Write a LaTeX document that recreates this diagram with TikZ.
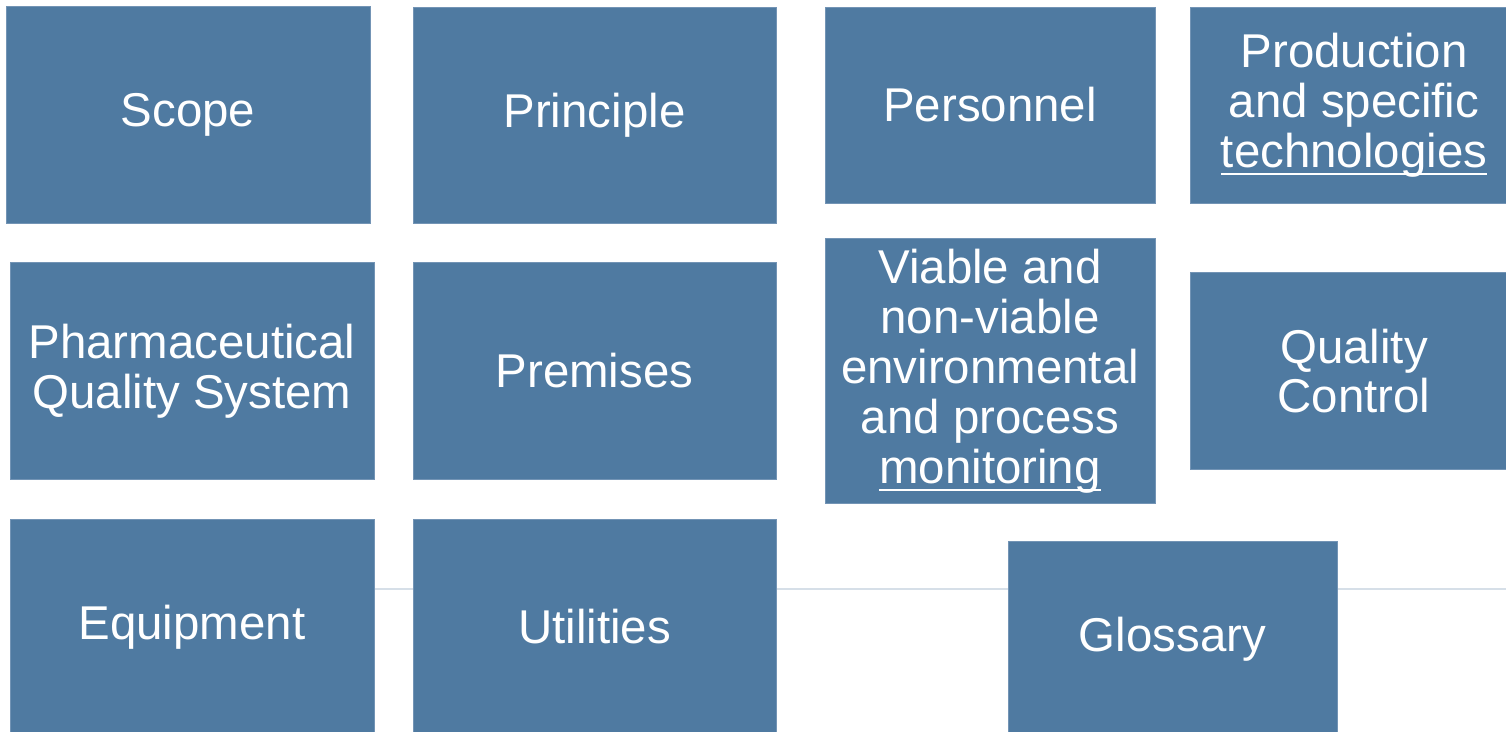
\documentclass[tikz,border=0pt]{standalone}
\usepackage{fontspec}
\setmainfont{Liberation Sans}
\usepackage{tikz}
\usetikzlibrary{backgrounds}
\definecolor{tileblue}{HTML}{4F7AA1}
\definecolor{tileedge}{HTML}{7394B5}
\definecolor{faintline}{HTML}{D6DFE8}
\tikzstyle{tile} = [rectangle, draw=tileedge, fill=tileblue, text=white,
    align=center, inner sep=0pt, font=\fontsize{27}{28.4}\selectfont]
\tikzstyle{line} = [draw=faintline, line width=1.6pt]
\newcommand\tileul[1]{\setbox0\hbox{#1}\rlap{\copy0}\rule[-4.5pt]{\wd0}{1.1pt}}

\begin{document}
\begin{tikzpicture}[x=0.02cm, y=-0.02cm]
  \useasboundingbox (0,0) rectangle (1506,731);
  % Place nodes
  \node [tile, minimum width=7.28cm, minimum height=4.34cm] (scope) at (188,115) {Scope};
  \node [tile, minimum width=7.26cm, minimum height=4.32cm] (principle) at (594.5,115) {Principle};
  \node [tile, minimum width=6.6cm, minimum height=3.92cm] (personnel) at (990,105) {Personnel};
  \node [tile, minimum width=6.56cm, minimum height=3.92cm] (production) at (1354,105)
    {Production\\and specific\\\tileul{technologies}};
  \node [tile, minimum width=7.28cm, minimum height=4.34cm] (pqs) at (192,371)
    {Pharmaceutical\\Quality System};
  \node [tile, minimum width=7.26cm, minimum height=4.34cm] (premises) at (594.5,370.5) {Premises};
  \node [tile, minimum width=6.6cm, minimum height=5.3cm] (monitoring) at (990,371)
    {Viable and\\non-viable\\environmental\\and process\\\tileul{monitoring}};
  \node [tile, minimum width=6.56cm, minimum height=3.94cm] (qc) at (1354,371) {Quality\\Control};
  \node [tile, minimum width=7.28cm, minimum height=4.32cm] (equipment) at (192,627) {Equipment};
  \node [tile, minimum width=7.26cm, minimum height=4.32cm] (utilities) at (594.5,627) {Utilities};
  \node [tile, minimum width=6.58cm, minimum height=3.92cm] (glossary) at (1172.5,639) {Glossary};
  \coordinate (lineend) at (1506,589);
  % Draw edges
  \begin{pgfonlayer}{background}
    \path [line] (equipment.east |- lineend) -- (lineend);
  \end{pgfonlayer}
\end{tikzpicture}
\end{document}
